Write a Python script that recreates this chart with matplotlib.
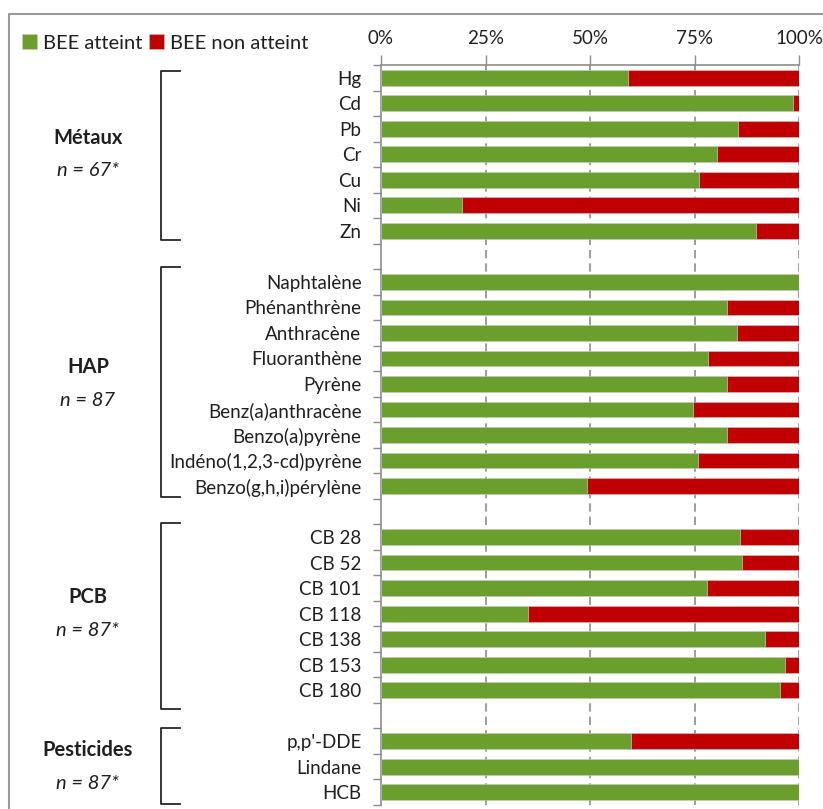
import matplotlib.pyplot as plt
import numpy as np
from matplotlib.lines import Line2D
import matplotlib.transforms as mtransforms

# groupes de contaminants
groupes = ['Métaux', 'HAP', 'PCB', 'Pesticides']
effectifs = ['n = 67*', 'n = 87', 'n = 87*', 'n = 87*']

metaux = ['Hg', 'Cd', 'Pb', 'Cr', 'Cu', 'Ni', 'Zn']
metaux_ok = [59.1, 98.6, 85.3, 80.3, 76.1, 19.3, 89.6]

hap = ['Naphtalène', 'Phénanthrène', 'Anthracène', 'Fluoranthène', 'Pyrène',
       'Benz(a)anthracène', 'Benzo(a)pyrène', 'Indéno(1,2,3-cd)pyrène',
       'Benzo(g,h,i)pérylène']
hap_ok = [100.0, 82.8, 85.1, 78.2, 82.8, 74.6, 82.8, 75.8, 49.4]

pcb = ['CB 28', 'CB 52', 'CB 101', 'CB 118', 'CB 138', 'CB 153', 'CB 180']
pcb_ok = [85.9, 86.3, 77.9, 35.2, 91.9, 96.6, 95.5]

pesticides = ["p,p'-DDE", 'Lindane', 'HCB']
pesticides_ok = [59.7, 100.0, 100.0]

xticks = [0, 25, 50, 75, 100]
xticklabels = ['0%', '25%', '50%', '75%', '100%']

vert = '#6a9f2e'
rouge = '#c00000'
gris = '#8c8c8c'
texte = '#1f1f1f'

plt.rcParams['font.family'] = ['Lato', 'DejaVu Sans']

W, H = 823, 809
fig = plt.figure(figsize=(W / 100, H / 100), dpi=100)
ax = fig.add_axes([381 / W, 1 - 805 / H, 418 / W, 740 / H])

# construction des lignes avec une ligne vide entre les groupes
noms = []
valeurs = []
etendues = []
pos = 0
for cats, vals in [(metaux, metaux_ok), (hap, hap_ok), (pcb, pcb_ok), (pesticides, pesticides_ok)]:
    if pos > 0:
        noms.append('')
        valeurs.append(np.nan)
        pos += 1
    etendues.append((pos, pos + len(cats) - 1))
    noms += cats
    valeurs += vals
    pos += len(cats)

y = np.arange(len(noms))
ok = np.array(valeurs)
nok = 100 - ok
mask = ~np.isnan(ok)

ax.barh(y[mask], ok[mask], height=0.62, color=vert, edgecolor='#c8c8c8', linewidth=0.4,
        label='BEE atteint', zorder=3)
ax.barh(y[mask], nok[mask], left=ok[mask], height=0.62, color=rouge, edgecolor='#c8c8c8',
        linewidth=0.4, label='BEE non atteint', zorder=3)

ax.set_xlim(0, 100)
ax.set_ylim(len(noms) - 0.5, -0.5)
ax.xaxis.tick_top()
ax.set_xticks(xticks)
ax.set_xticklabels(xticklabels, fontsize=13.5, color=texte)
ax.tick_params(axis='x', length=7, width=1, color=gris, pad=6)
ax.set_yticks(y)
ax.set_yticklabels(noms, fontsize=13.5, color=texte)
ax.tick_params(axis='y', which='major', length=0, pad=14)
ax.set_yticks(np.arange(-0.5, len(noms)), minor=True)
ax.tick_params(axis='y', which='minor', length=6, width=1, color=gris)

for v in xticks[1:]:
    ax.axvline(v, color=gris, linestyle=(0, (5, 3)), linewidth=1.2, zorder=1)

for s in ['right', 'bottom']:
    ax.spines[s].set_visible(False)
for s in ['left', 'top']:
    ax.spines[s].set_color(gris)
    ax.spines[s].set_linewidth(1.2)

# crochets et noms des groupes
trans = mtransforms.blended_transform_factory(fig.transFigure, ax.transData)
decalages = [(-0.27, 0.35), (-0.6, 0.43), (-0.55, 0.75), (-0.52, 0.47)]
for (a, b), (d1, d2), g, n in zip(etendues, decalages, groupes, effectifs):
    x0, x1 = 161 / W, 180 / W
    ax.add_line(Line2D([x1, x0, x0, x1], [a + d1, a + d1, b + d2, b + d2], transform=trans,
                       color='#262626', linewidth=1.3, clip_on=False))
    c = (a + b) / 2
    ax.annotate(g, (88 / W, c), xycoords=trans, xytext=(0, 12), textcoords='offset points',
                ha='center', va='center', fontsize=14.5, fontweight='bold', color=texte)
    ax.annotate(n, (88 / W, c), xycoords=trans, xytext=(0, -12), textcoords='offset points',
                ha='center', va='center', fontsize=14.5, fontstyle='italic', color=texte)

# cadre gris
fig.add_artist(Line2D([9 / W, 9 / W, 1], [0, 1 - 14 / H, 1 - 14 / H], transform=fig.transFigure,
                      color='#9a9a9a', linewidth=1.5))

fig.legend(loc='center left', bbox_to_anchor=(14 / W, 1 - 43 / H), ncol=2, frameon=False,
           handlelength=0.75, handleheight=0.75, handletextpad=0.3, columnspacing=0.3,
           fontsize=14.5, borderaxespad=0, labelcolor=texte)

plt.savefig('out.png', dpi=100)
